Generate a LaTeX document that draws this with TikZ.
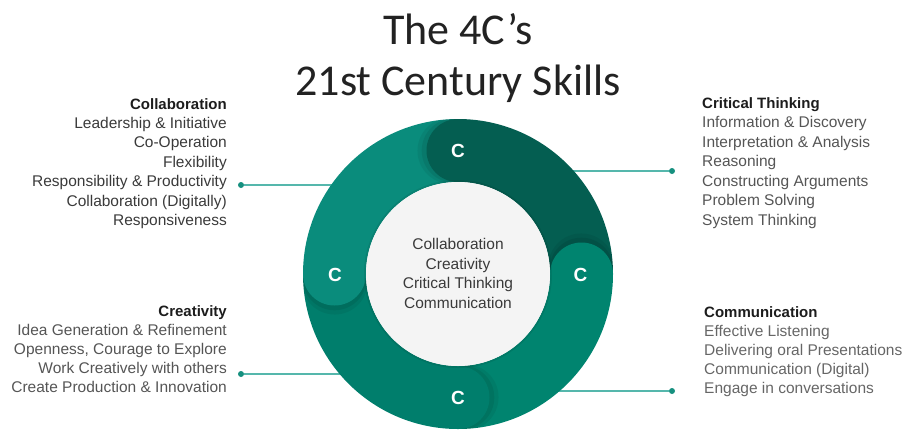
\documentclass[tikz,border=0pt]{standalone}
\usepackage{fontspec}
\setmainfont{Liberation Sans}
\newfontfamily\titlefont{Carlito}
\definecolor{darkteal}{HTML}{045E51}
\definecolor{tealA}{HTML}{0A8C7C}
\definecolor{tealB}{HTML}{00846F}
\definecolor{tealC}{HTML}{007E6C}
\definecolor{innerfill}{HTML}{F4F4F4}
\definecolor{connline}{HTML}{55B7AC}
\definecolor{dotcol}{HTML}{16907F}
\definecolor{headblack}{HTML}{1C1C1C}
\definecolor{itemdark}{HTML}{3A3A3A}
\definecolor{itemmid}{HTML}{555555}
\definecolor{itemlight}{HTML}{666666}
\definecolor{titlecol}{HTML}{222222}
\begin{document}
\begin{tikzpicture}[x=1pt,y=-1pt,
  titletext/.style={inner sep=0pt, font=\titlefont\fontsize{44}{50}\selectfont, text=titlecol},
  hdr/.style={inner sep=0pt, font=\bfseries\fontsize{15}{19}\selectfont, text=headblack},
  itm/.style={inner sep=0pt, font=\fontsize{15.5}{19}\selectfont},
  ctr/.style={inner sep=0pt, font=\fontsize{15.5}{19}\selectfont, text=itemdark, anchor=base},
  clabel/.style={inner sep=0pt, font=\bfseries\fontsize{19}{22}\selectfont, text=white},
  dotnode/.style={circle, fill=dotcol, minimum size=6pt, inner sep=0pt},
  conn/.style={draw=connline, line width=1.6pt},
  seg/.style={line width=63pt},
]
\useasboundingbox (0,0) rectangle (908,429);
\coordinate (O) at (458,274);

% title
\node[titletext, anchor=base] (t1) at (458,44) {The 4C’s};
\node[titletext, anchor=base] (t2) at (458,95) {21st Century Skills};

% connectors
\node[dotnode] (d1) at (241,185) {};
\coordinate (e1) at (360,185);
\draw[conn] (d1) -- (e1);
\node[dotnode] (d2) at (241,374) {};
\coordinate (e2) at (360,374);
\draw[conn] (d2) -- (e2);
\node[dotnode] (d3) at (672,171) {};
\coordinate (e3) at (560,171);
\draw[conn] (e3) -- (d3);
\node[dotnode] (d4) at (672,391) {};
\coordinate (e4) at (540,391);
\draw[conn] (e4) -- (d4);

% ring segments
\draw[seg, darkteal] (O) ++(-90:123.5) arc[start angle=-90, end angle=0, radius=123.5];
\draw[seg, tealB] (O) ++(0:123.5) arc[start angle=0, end angle=90, radius=123.5];
\draw[seg, tealC] (O) ++(90:123.5) arc[start angle=90, end angle=180, radius=123.5];
\draw[seg, tealA] (O) ++(180:123.5) arc[start angle=180, end angle=270, radius=123.5];

% soft head shadows and heads
\begin{scope}
  \clip (O) circle[radius=155];
  \foreach \a in {-90,0,90,180} {
    \fill[black, opacity=0.06] (O) ++(\a-3.5:123.5) circle[radius=33];
    \fill[black, opacity=0.07] (O) ++(\a-2:123.5) circle[radius=32];
  }
\end{scope}
\fill[darkteal] (O) ++(-90:123.5) circle[radius=31.5];
\fill[tealB] (O) ++(0:123.5) circle[radius=31.5];
\fill[tealC] (O) ++(90:123.5) circle[radius=31.5];
\fill[tealA] (O) ++(180:123.5) circle[radius=31.5];

% inner disc
\fill[black, opacity=0.08] (O) circle[radius=94];
\fill[innerfill] (O) circle[radius=92];

% C labels
\node[clabel] (c1) at (458,150.5) {C};
\node[clabel] (c2) at (580.5,274.5) {C};
\node[clabel] (c3) at (458,397.5) {C};
\node[clabel] (c4) at (335,274.5) {C};

% centre text
\node[ctr] (m1) at (458,249.5) {Collaboration};
\node[ctr] (m2) at (458,269) {Creativity};
\node[ctr] (m3) at (458,288.5) {Critical Thinking};
\node[ctr] (m4) at (458,308) {Communication};

% Collaboration block
\node[hdr, anchor=base east] (h1) at (227,109) {Collaboration};
\foreach \t [count=\i] in {Leadership \& Initiative, Co-Operation, Flexibility,
  Responsibility \& Productivity, Collaboration (Digitally), Responsiveness}
  \node[itm, text=itemdark, anchor=base east] (a\i) at (227,109+19.4*\i) {\t};

% Creativity block
\node[hdr, anchor=base east] (h2) at (227,316.5) {Creativity};
\foreach \t [count=\i] in {Idea Generation \& Refinement, {Openness, Courage to Explore},
  Work Creatively with others, Create Production \& Innovation}
  \node[itm, text=itemmid, anchor=base east] (b\i) at (227,316.5+19.1*\i) {\t};

% Critical Thinking block
\node[hdr, anchor=base west] (h3) at (702,108) {Critical Thinking};
\foreach \t [count=\i] in {Information \& Discovery, Interpretation \& Analysis, Reasoning,
  Constructing Arguments, Problem Solving, System Thinking}
  \node[itm, text=itemmid, anchor=base west] (k\i) at (702,108+19.5*\i) {\t};

% Communication block
\node[hdr, anchor=base west] (h4) at (704,317) {Communication};
\foreach \t [count=\i] in {Effective Listening, Delivering oral Presentations,
  Communication (Digital), Engage in conversations}
  \node[itm, text=itemlight, anchor=base west] (n\i) at (704,317+19*\i) {\t};
\end{tikzpicture}
\end{document}
